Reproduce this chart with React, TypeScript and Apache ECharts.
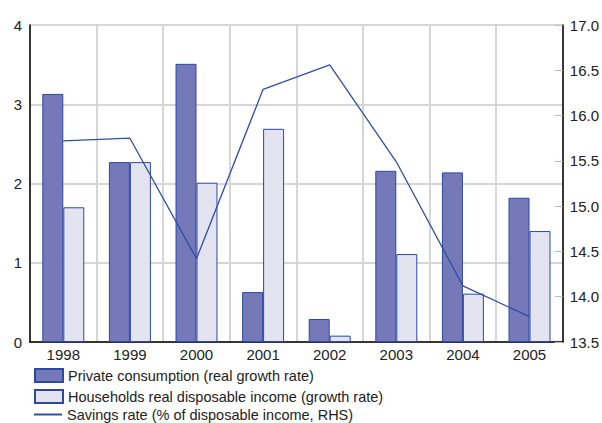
import React, { useEffect, useRef } from "react";
import * as echarts from "echarts";

const years = ["1998", "1999", "2000", "2001", "2002", "2003", "2004", "2005"];
const privateConsumption = [3.13, 2.27, 3.51, 0.63, 0.29, 2.16, 2.14, 1.82];
const disposableIncome = [1.7, 2.27, 2.01, 2.69, 0.08, 1.11, 0.61, 1.4];
const savingsRate = [15.72, 15.75, 14.42, 16.29, 16.56, 15.49, 14.12, 13.78];

const seriesNames = [
  "Private consumption (real growth rate)",
  "Households real disposable income (growth rate)",
  "Savings rate (% of disposable income, RHS)",
];

const FONT = "'Liberation Sans', Arial, Helvetica, sans-serif";

export default function App() {
  const ref = useRef<HTMLDivElement>(null);
  useEffect(() => {
    const chart = echarts.init(ref.current!, undefined, { renderer: "svg" });
    const legendText = { fontSize: 14.5, color: "#222", fontFamily: FONT };
    chart.setOption({
      animation: false,
      textStyle: { fontFamily: FONT },
      grid: {
        left: 30,
        right: 36,
        top: 25,
        bottom: 81,
        show: true,
        borderColor: "#000",
        borderWidth: 1,
      },
      legend: [
        {
          left: 29,
          top: 363,
          itemWidth: 28,
          itemHeight: 13,
          itemGap: 6,
          textStyle: legendText,
          data: [{ name: seriesNames[0], icon: "rect" }],
        },
        {
          left: 29,
          top: 384,
          itemWidth: 28,
          itemHeight: 13,
          itemGap: 6,
          textStyle: legendText,
          data: [{ name: seriesNames[1], icon: "rect" }],
        },
        {
          left: 29,
          top: 402,
          itemWidth: 28,
          itemHeight: 2,
          itemGap: 6,
          textStyle: legendText,
          data: [{ name: seriesNames[2], icon: "rect" }],
        },
      ],
      xAxis: {
        type: "category",
        data: years,
        axisLine: { lineStyle: { color: "#000", width: 1.5 } },
        axisTick: { show: false },
        axisLabel: { fontSize: 15, color: "#222", margin: 5, fontFamily: FONT },
        splitLine: { show: true, lineStyle: { color: "#d6d6d6", width: 2 } },
      },
      yAxis: [
        {
          type: "value",
          min: 0,
          max: 4,
          interval: 1,
          axisLine: { show: true, lineStyle: { color: "#000", width: 1.5 } },
          axisTick: { show: false },
          axisLabel: { fontSize: 15, color: "#222", margin: 8, fontFamily: FONT },
          splitLine: { show: true, lineStyle: { color: "#d6d6d6", width: 2 } },
        },
        {
          type: "value",
          min: 13.5,
          max: 17,
          interval: 0.5,
          position: "right",
          axisLine: { show: true, lineStyle: { color: "#000", width: 1.5 } },
          axisTick: { show: true, inside: true, length: 8, lineStyle: { color: "#bbb" } },
          axisLabel: {
            fontSize: 15,
            color: "#222",
            margin: 7,
            fontFamily: FONT,
            formatter: (v: number) => v.toFixed(1),
          },
          splitLine: { show: false },
        },
      ],
      series: [
        {
          name: seriesNames[0],
          type: "bar",
          data: privateConsumption,
          barGap: "0%",
          barCategoryGap: "37%",
          itemStyle: { color: "#7579b8", borderColor: "#2a48a6", borderWidth: 1 },
        },
        {
          name: seriesNames[1],
          type: "bar",
          data: disposableIncome,
          itemStyle: { color: "#e4e4f0", borderColor: "#2a48a6", borderWidth: 1 },
        },
        {
          name: seriesNames[2],
          type: "line",
          yAxisIndex: 1,
          data: savingsRate,
          symbol: "none",
          lineStyle: { color: "#2f4fa8", width: 1.3 },
          itemStyle: { color: "#2f4fa8" },
        },
      ],
    });
    return () => chart.dispose();
  }, []);
  return <div ref={ref} style={{ width: 602, height: 423, position: "absolute", left: 0, top: 0 }} />;
}
